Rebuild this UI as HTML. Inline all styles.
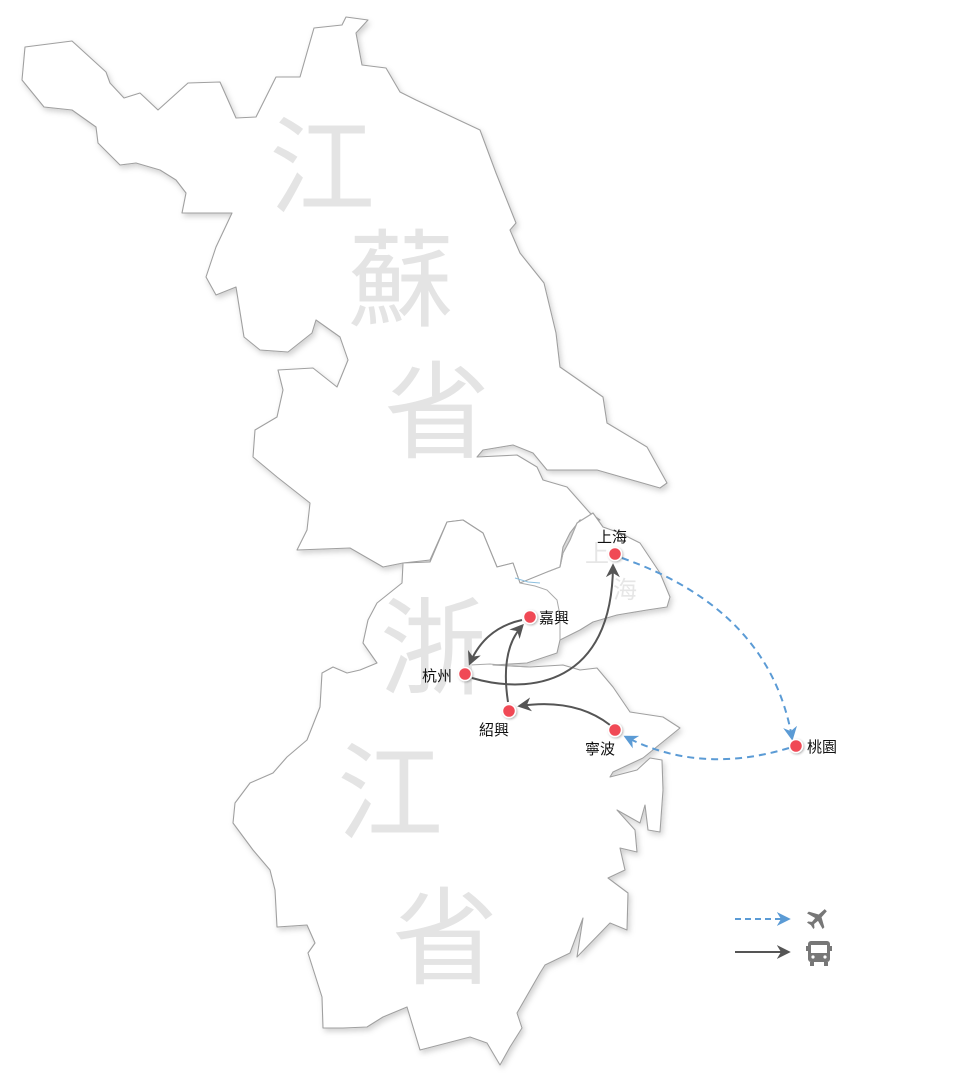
<!DOCTYPE html>
<html><head><meta charset="utf-8"><style>
html,body{margin:0;padding:0;background:#fff;}
body{width:962px;height:1080px;overflow:hidden;}
svg{display:block}
.big{font-family:"Liberation Sans","Noto Sans CJK TC",sans-serif;fill:#e4e4e4;font-size:106px;text-anchor:middle;}
.lbl{font-family:"Liberation Sans","Noto Sans CJK TC",sans-serif;fill:#111;font-size:15px;}
</style></head><body>
<svg width="962" height="1080" viewBox="0 0 962 1080" xmlns="http://www.w3.org/2000/svg">
<defs>
<filter id="sh" x="-10%" y="-10%" width="120%" height="120%">
<feDropShadow dx="2" dy="3" stdDeviation="3" flood-color="#000" flood-opacity="0.18"/>
</filter>
<filter id="ds" x="-50%" y="-50%" width="200%" height="200%">
<feDropShadow dx="1" dy="1" stdDeviation="1" flood-color="#000" flood-opacity="0.3"/>
</filter>
<marker id="ag" viewBox="0 0 10 10" refX="8" refY="5" markerWidth="7" markerHeight="7" orient="auto"><path d="M0,0 L10,5 L0,10 L3,5 Z" fill="#555"/></marker>
<marker id="ab" viewBox="0 0 10 10" refX="8" refY="5" markerWidth="7" markerHeight="7" orient="auto"><path d="M0,0 L10,5 L0,10 L3,5 Z" fill="#5b9bd5"/></marker>
</defs>
<g fill="#fff" stroke="#a0a0a0" stroke-width="1.1" stroke-linejoin="round" filter="url(#sh)">
<polygon points="25,47 72,41 106,72 110,83 124,98 140,93 158,110 188,83 220,82 236,118 256,117 276,77 300,77 314,28 342,25 346,17 368,20 356,33 362,65 386,68 400,92 416,100 480,130 496,173 516,223 510,230 520,253 544,283 556,333 560,367 583,383 603,397 607,423 647,447 667,483 660,488 597,470 547,470 533,453 513,445 483,450 477,457 517,455 537,467 543,480 567,487 590,513 600,520 580,520 570,533 563,547 560,567 550,573 520,583 513,563 497,567 483,533 463,520 447,522 430,560 403,563 383,567 350,548 297,550 307,530 310,503 277,477 253,457 255,430 277,417 283,390 278,370 313,368 337,387 348,360 340,337 316,320 312,333 288,352 260,350 244,337 236,287 216,295 206,277 216,247 232,213 182,213 186,193 176,180 160,170 136,163 120,165 98,143 96,127 72,110 44,107 22,80"/>
<polygon points="403,563 430,562 447,522 463,520 483,533 497,567 513,563 520,583 547,572 560,567 563,553 570,540 577,523 593,513 603,527 620,533 640,543 660,573 670,597 667,607 647,610 617,615 593,622 580,630 560,640 557,653 527,663 493,665 530,667 563,665 580,670 597,668 613,687 630,712 663,717 680,728 643,758 613,772 610,777 637,770 650,758 662,760 663,790 660,832 648,830 645,805 640,823 617,810 635,830 637,852 620,848 625,870 608,878 628,893 627,930 610,923 577,957 583,918 570,953 545,965 540,973 517,1013 522,1028 510,1047 500,1065 487,1043 470,1037 447,1043 420,1050 407,1007 383,1017 367,1027 343,1028 323,1028 322,997 308,953 315,943 307,925 277,927 275,890 270,870 253,850 233,823 235,803 250,783 273,773 287,757 307,740 320,707 322,673 333,667 347,673 360,670 377,663 363,643 368,620 377,603 402,583"/>
</g>
<polyline points="547,572 560,567 563,553 570,540 577,523 593,513" fill="none" stroke="#aaa" stroke-width="1"/>
<polyline points="520,583 535,586 547,590 557,600 560,615 560,640" fill="none" stroke="#aaa" stroke-width="1"/>
<polyline points="515,578 528,582 540,583" fill="none" stroke="#8cc0e0" stroke-width="1"/>
<polyline points="470,665 490,664 510,666 530,667" fill="none" stroke="#aaa" stroke-width="1"/>

<text class="big" x="322" y="205">江</text>
<text class="big" x="401" y="318">蘇</text>
<text class="big" x="437" y="450">省</text>
<text class="big" x="433" y="686">浙</text>
<text class="big" x="390" y="831">江</text>
<text class="big" x="445" y="976">省</text>
<text x="597" y="562" font-family="Liberation Sans,Noto Sans CJK TC,sans-serif" font-size="24" fill="#e6e6e6" text-anchor="middle">上</text>
<text x="625" y="598" font-family="Liberation Sans,Noto Sans CJK TC,sans-serif" font-size="24" fill="#e6e6e6" text-anchor="middle">海</text>

<g fill="none" stroke-width="2">
<path d="M622,558 Q770,610 792,738" stroke="#5b9bd5" stroke-dasharray="7,5" marker-end="url(#ab)"/>
<path d="M789,748 Q700,775 626,737" stroke="#5b9bd5" stroke-dasharray="7,5" marker-end="url(#ab)"/>
<path d="M610,725 Q575,698 520,706" stroke="#555" marker-end="url(#ag)"/>
<path d="M508,702 Q500,650 522,626" stroke="#555" marker-end="url(#ag)"/>
<path d="M522,620 Q485,628 470,663" stroke="#555" marker-end="url(#ag)"/>
<path d="M472,678 C530,695 612,685 613,566" stroke="#555" marker-end="url(#ag)"/>
</g>

<g fill="#f04a55" stroke="#fff" stroke-width="1.5" filter="url(#ds)">
<circle cx="615" cy="554" r="6.5"/>
<circle cx="530" cy="617" r="6.5"/>
<circle cx="465" cy="674" r="6.5"/>
<circle cx="509" cy="711" r="6.5"/>
<circle cx="615" cy="730" r="6.5"/>
<circle cx="796" cy="746" r="6.5"/>
</g>
<text class="lbl" x="597" y="542">上海</text>
<text class="lbl" x="539" y="623">嘉興</text>
<text class="lbl" x="422" y="681">杭州</text>
<text class="lbl" x="479" y="735">紹興</text>
<text class="lbl" x="585" y="754">寧波</text>
<text class="lbl" x="807" y="752">桃園</text>

<line x1="735" y1="919" x2="788" y2="919" stroke="#5b9bd5" stroke-width="2" stroke-dasharray="6,4" marker-end="url(#ab)"/>
<line x1="735" y1="952" x2="788" y2="952" stroke="#555" stroke-width="2" marker-end="url(#ag)"/>
<g fill="#777" transform="translate(818,918) rotate(45)">
<path d="M-1.5,-11 L1.5,-11 L2,-3 L11,2 L11,4.5 L2,2 L1.5,7 L4.5,9.5 L4.5,11 L0,10 L-4.5,11 L-4.5,9.5 L-1.5,7 L-2,2 L-11,4.5 L-11,2 L-2,-3 Z"/>
</g>
<g fill="#777">
<rect x="808" y="941" width="22" height="21" rx="3"/>
<rect x="810" y="962" width="4" height="4"/>
<rect x="824" y="962" width="4" height="4"/>
<rect x="806" y="946" width="2" height="5"/>
<rect x="830" y="946" width="2" height="5"/>
<rect x="811" y="945" width="16" height="8" fill="#fff"/>
<circle cx="813" cy="957" r="1.6" fill="#fff"/>
<circle cx="825" cy="957" r="1.6" fill="#fff"/>
</g>
</svg>
</body></html>
